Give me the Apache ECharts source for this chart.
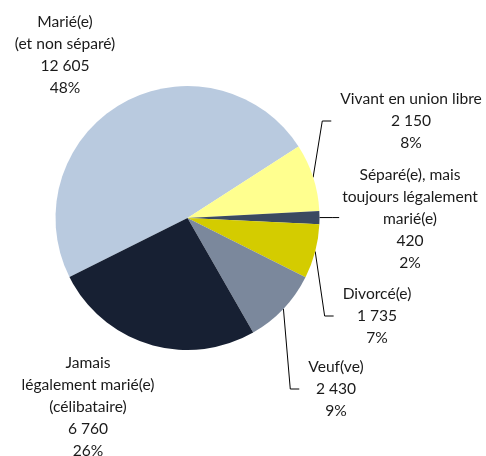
<!DOCTYPE html>
<html>
<head>
<meta charset="utf-8">
<script src="https://cdn.jsdelivr.net/npm/echarts@6/dist/echarts.min.js"></script>
<style>
html,body{margin:0;padding:0;background:#fff;}
#chart{width:486px;height:456px;}
</style>
</head>
<body>
<div id="chart"></div>
<script>
// ---- Data ----
var categories = [
  "Marié(e)\n(et non séparé)",
  "Vivant en union libre",
  "Séparé(e), mais\ntoujours légalement\nmarié(e)",
  "Divorcé(e)",
  "Veuf(ve)",
  "Jamais\nlégalement marié(e)\n(célibataire)"
];
var values = [12605, 2150, 420, 1735, 2430, 6760];

// ---- Styles / layout (not data) ----
var colors = ["#B9CADF", "#FFFF8F", "#3B4A60", "#D4CC00", "#7B889C", "#172033"];
var labelAnchors = [[65, 55], [411, 121], [410, 219], [377, 316], [336, 389], [88, 407]];
// leader: null = none; 'straight' = horizontal line; 'bent' = line to a short tick
var leaderKind = [null, 'bent', 'straight', 'bent', 'bent', null];

function fmt(n) {
  return String(n).replace(/\B(?=(\d{3})+(?!\d))/g, " ");
}

var chart = echarts.init(document.getElementById('chart'), null, {renderer: 'canvas'});
var seriesData = categories.map(function (c, i) {
  return {
    name: c,
    value: values[i],
    itemStyle: {color: colors[i]},
    labelLine: {show: leaderKind[i] !== null}
  };
});

chart.setOption({
  animation: false,
  backgroundColor: '#ffffff',
  series: [{
    type: 'pie',
    center: [187.5, 218],
    radius: 132,
    startAngle: 206.6,
    clockwise: true,
    avoidLabelOverlap: false,
    itemStyle: {borderWidth: 0},
    emphasis: {disabled: true},
    label: {
      show: true,
      position: 'outside',
      bleedMargin: -400,
      overflow: 'none',
      fontFamily: 'Lato',
      fontSize: 15.6,
      lineHeight: 21.8,
      color: '#1a1a1a',
      align: 'center',
      formatter: function (p) {
        return p.name + '\n' + fmt(p.value) + '\n' + Math.round(p.percent) + '%';
      }
    },
    labelLine: {
      show: true,
      length: 10,
      length2: 10,
      lineStyle: {color: '#000000', width: 1}
    },
    labelLayout: function (p) {
      var i = p.dataIndex;
      var a = labelAnchors[i];
      var res = {x: a[0], y: a[1], align: 'center', verticalAlign: 'middle'};
      var kind = leaderKind[i];
      if (kind && p.labelLinePoints) {
        var s = p.labelLinePoints[0];
        var left = a[0] - p.labelRect.width / 2;
        if (kind === 'straight') {
          res.labelLinePoints = [[s[0], s[1]], [left - 10, s[1]], [left - 3, s[1]]];
        } else {
          res.labelLinePoints = [[s[0], s[1]], [left - 18, a[1]], [left - 9, a[1]]];
        }
      }
      return res;
    },
    data: seriesData
  }]
});
</script>
</body>
</html>
